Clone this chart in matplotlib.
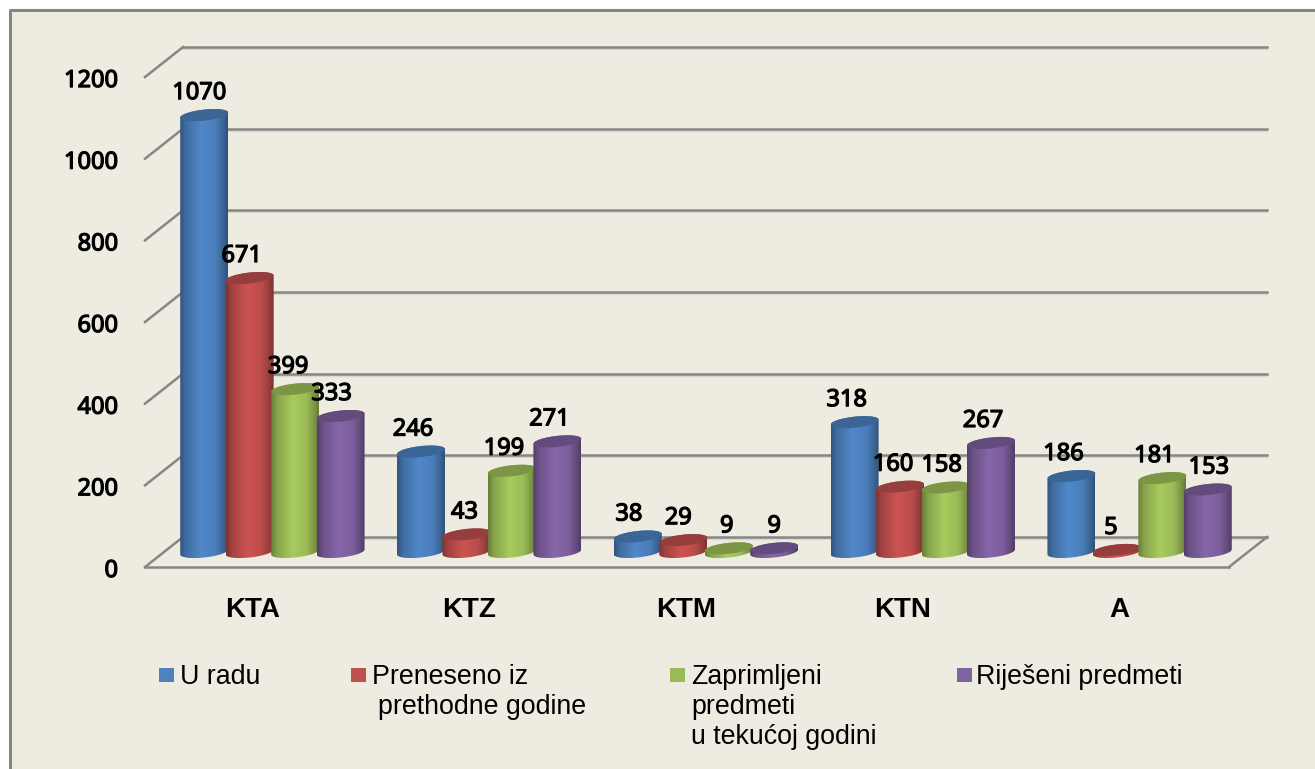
import matplotlib

matplotlib.use("Agg")

import matplotlib.patheffects as pe
import matplotlib.pyplot as plt
import numpy as np
from matplotlib.patches import PathPatch, Polygon, Rectangle
from matplotlib.path import Path
from matplotlib.transforms import Affine2D, IdentityTransform

WIDTH, HEIGHT, DPI = 1315, 769, 100
BG = "#EEECE1"
GRID = "#868686"

categories = ["KTA", "KTZ", "KTM", "KTN", "A"]
u_radu = [1070, 246, 38, 318, 186]
preneseno = [671, 43, 29, 160, 5]
zaprimljeni = [399, 199, 9, 158, 181]
rijeseni = [333, 271, 9, 267, 153]
y_ticks = [0, 200, 400, 600, 800, 1000, 1200]

series = [u_radu, preneseno, zaprimljeni, rijeseni]
colors = ["#5088CA", "#CB5452", "#A8CB5E", "#8766A9"]
legend_colors = ["#4F81BD", "#C0504D", "#9BBB59", "#8064A2"]

# label nudges in pixels, same shape as series
label_dx = [
    [-5, -8, -9, -8, -8],
    [-8, -2, -5, -7, -6],
    [-7, -8, -2, -4, -8],
    [-9, -8, 0, -8, 1],
]

# pixel geometry of the plot, measured from the top left corner
PX_PER_CAT = 217
PX_PER_UNIT = 0.4083
BAR_STEP = 45.5 / PX_PER_CAT
HALF_W = 24 / PX_PER_CAT
ELL_H = 5.5 / PX_PER_UNIT
ELL_TILT = 2.5 / PX_PER_UNIT
DEPTH_X, DEPTH_Y = 19, 15

# the number font has no bold cut here, so thicken it with a thin outline
NUMBER_STYLE = dict(
    family="Noto Sans",
    fontsize=17,
    color="black",
    path_effects=[pe.withStroke(linewidth=0.9, foreground="black")],
)


def fx(x):
    return x / WIDTH


def fy(y):
    return 1 - y / HEIGHT


def rim(cx, y, start, stop):
    t = np.linspace(start, stop, 40)
    return np.column_stack(
        [cx + HALF_W * np.cos(t), y + ELL_H * np.sin(t) + ELL_TILT * np.cos(t)]
    )


def shade(color, factors):
    base = np.array(matplotlib.colors.to_rgb(color))
    return np.clip(np.outer(factors, base), 0, 1)


def draw_cylinder(ax, cx, value, color, order):
    body = np.vstack(
        [rim(cx, 0, np.pi, 2 * np.pi), rim(cx, value, 0, np.pi), [[cx - HALF_W, 0]]]
    )
    stops = np.linspace(0, 1, 80)
    factors = np.interp(stops, [0, 0.12, 0.45, 0.75, 0.92, 1], [0.62, 0.8, 1.0, 0.92, 0.72, 0.6])
    grad = shade(color, factors)[np.newaxis, :, :]
    image = ax.imshow(
        grad,
        extent=[cx - HALF_W, cx + HALF_W, -40, value + 40],
        aspect="auto",
        interpolation="bilinear",
        zorder=order,
    )
    patch = PathPatch(Path(body), transform=ax.transData, facecolor="none", edgecolor="none")
    image.set_clip_path(patch)

    lid = rim(cx, value, 0, 2 * np.pi)
    ax.add_patch(
        Polygon(lid, closed=True, facecolor=shade(color, [0.74])[0], edgecolor="none", zorder=order + 0.1)
    )


fig = plt.figure(figsize=(WIDTH / DPI, HEIGHT / DPI), dpi=DPI, facecolor="white")

# panel and its top/left frame
fig.add_artist(
    Rectangle((fx(9), 0), 1 - fx(9), fy(10), transform=fig.transFigure, facecolor=BG, edgecolor="none", zorder=-5)
)
fig.add_artist(plt.Line2D([fx(9.5), fx(9.5)], [0, fy(10)], color=GRID, lw=2.2, solid_capstyle="butt", zorder=-4))
fig.add_artist(plt.Line2D([fx(8.5), 1], [fy(10), fy(10)], color=GRID, lw=2.2, solid_capstyle="butt", zorder=-4))

# axes: x=-0.5..4.5 is the mid floor, y=0 sits at pixel row 552
y_low, y_high = -60, 1300
ax_left, ax_right = 164, 1248
ax_bottom = 552 - y_low * PX_PER_UNIT
ax_top = 552 - y_high * PX_PER_UNIT
ax = fig.add_axes([fx(ax_left), fy(ax_bottom), fx(ax_right - ax_left), (ax_bottom - ax_top) / HEIGHT])
ax.set_xlim(-0.5, 4.5)
ax.set_ylim(y_low, y_high)
ax.patch.set_alpha(0)
ax.axis("off")

back = ax.transData + Affine2D().translate(DEPTH_X, DEPTH_Y)
front = ax.transData + Affine2D().translate(-DEPTH_X, -DEPTH_Y)
back_shadow = back + Affine2D().translate(0, -2)
pixels = IdentityTransform()

for tick in y_ticks:
    ax.plot([-0.5, 4.5], [tick, tick], transform=back_shadow, color="#D9D8CE", lw=1.6, clip_on=False, zorder=1)
    ax.plot([-0.5, 4.5], [tick, tick], transform=back, color=GRID, lw=1.8, clip_on=False, zorder=2)
    # left wall diagonal, drawn in pixels from its front end
    x_front, y_front = front.transform((-0.5, tick))
    ax.plot(
        [x_front, x_front + 2 * DEPTH_X],
        [y_front, y_front + 2 * DEPTH_Y],
        transform=pixels,
        color=GRID,
        lw=1.8,
        clip_on=False,
        zorder=2,
    )
    ax.annotate(
        str(tick),
        xy=(-0.5, tick),
        xytext=(-46, -19),
        textcoords="offset pixels",
        ha="right",
        va="center",
        **NUMBER_STYLE,
    )

# floor front edge and right edge
ax.plot([-0.5, 4.5], [0, 0], transform=front, color=GRID, lw=1.8, clip_on=False, zorder=2)
x_front, y_front = front.transform((4.5, 0))
ax.plot(
    [x_front, x_front + 2 * DEPTH_X],
    [y_front, y_front + 2 * DEPTH_Y],
    transform=pixels,
    color=GRID,
    lw=1.8,
    clip_on=False,
    zorder=2,
)

for cat_index, cat in enumerate(categories):
    for ser_index, values in enumerate(series):
        cx = cat_index + (ser_index - 1.5) * BAR_STEP
        value = values[cat_index]
        draw_cylinder(ax, cx, value, colors[ser_index], 3 + cat_index + ser_index * 0.2)
        ax.annotate(
            str(value),
            xy=(cx, value),
            xytext=(label_dx[ser_index][cat_index], 22),
            textcoords="offset pixels",
            ha="center",
            va="center",
            zorder=20,
            **NUMBER_STYLE,
        )
    ax.annotate(
        cat,
        xy=(cat_index, 0),
        xytext=(-20, -58),
        textcoords="offset pixels",
        ha="center",
        va="center",
        family="Liberation Sans",
        weight="bold",
        fontsize=20,
        color="black",
    )

ax.set_xlim(-0.5, 4.5)
ax.set_ylim(y_low, y_high)

# legend, laid out by hand to keep the odd line breaks
legend_x = [159, 351, 670, 957]
legend_lines = [
    [(180, "U radu")],
    [(372, "Preneseno iz"), (378, "prethodne godine")],
    [(691, "Zaprimljeni"), (691, "predmeti"), (691, "u tekućoj godini")],
    [(976, "Riješeni predmeti")],
]
for x_pos, color, lines in zip(legend_x, legend_colors, legend_lines):
    fig.add_artist(
        Rectangle((fx(x_pos), fy(682)), 15 / WIDTH, 14 / HEIGHT, transform=fig.transFigure, facecolor=color, edgecolor="none")
    )
    for row, (text_x, line) in enumerate(lines):
        fig.text(
            fx(text_x),
            fy(677 + 30 * row),
            line,
            ha="left",
            va="center",
            family="Liberation Sans",
            fontsize=19.3,
            color="black",
        )

fig.savefig("out.png", dpi=DPI, facecolor="white")
plt.close(fig)
